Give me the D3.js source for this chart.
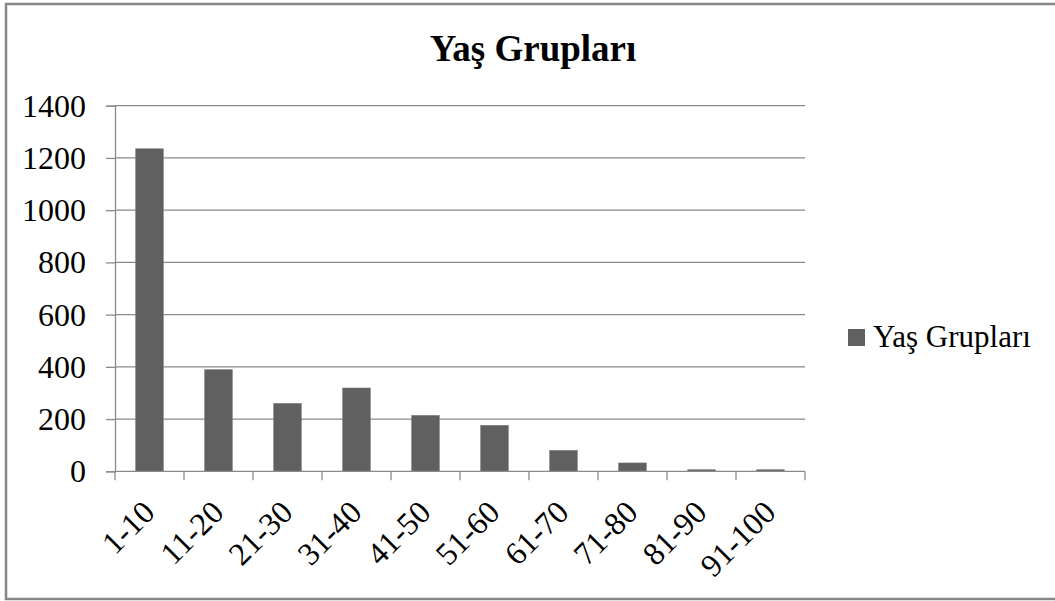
<!DOCTYPE html>
<html><head><meta charset="utf-8">
<script src="https://cdn.jsdelivr.net/npm/d3@7"></script>
<style>body{margin:0;background:#fff}svg{display:block}</style>
</head><body>
<svg id="c" width="1055" height="601"></svg>
<script>
const categories = ["1-10","11-20","21-30","31-40","41-50","51-60","61-70","71-80","81-90","91-100"];
const values = [1235, 389, 260, 319, 214, 176, 80, 32, 6, 6];
const yTicks = [0,200,400,600,800,1000,1200,1400];
const title = "Yaş Grupları";
const seriesName = "Yaş Grupları";

const svg = d3.select("#c");
const font = "'Liberation Serif','Times New Roman',serif";
const gray = "#8a8a8a";

svg.append("rect").attr("x",6).attr("y",4).attr("width",1052).attr("height",595)
  .attr("fill","#fff").attr("stroke","#878787").attr("stroke-width",2.5);

const L=115, R=805, T=105.7, B=471.3;
const x = d3.scaleBand().domain(categories).range([L,R]).paddingInner(0.6).paddingOuter(0.3);
const xb = d3.scaleBand().domain(categories).range([L,R]);
const y = d3.scaleLinear().domain([0,1400]).range([B,T]);

svg.append("text").attr("x",533).attr("y",61).attr("text-anchor","middle")
  .attr("font-family",font).attr("font-weight","bold").attr("font-size",37).text(title);

// gridlines
svg.append("g").selectAll("line").data(yTicks.filter(d=>d>0)).join("line")
  .attr("x1",L).attr("x2",R).attr("y1",d=>y(d)).attr("y2",d=>y(d))
  .attr("stroke",gray).attr("stroke-width",1.3);

// y axis
const ya = svg.append("g").attr("transform",`translate(${L},0)`)
  .call(d3.axisLeft(y).tickValues(yTicks).tickSize(9).tickPadding(20).tickFormat(d3.format("d")));
ya.select(".domain").attr("stroke",gray).attr("stroke-width",1.3);
ya.selectAll(".tick line").attr("stroke",gray).attr("stroke-width",1.3);
ya.selectAll(".tick text").attr("font-family",font).attr("font-size",32).attr("fill","#000").attr("dy","0.33em");

// bars
svg.append("g").selectAll("rect").data(values).join("rect")
  .attr("x",(d,i)=>x(categories[i])).attr("width",x.bandwidth())
  .attr("y",d=>y(d)).attr("height",d=>B-y(d))
  .attr("fill","#606060").attr("stroke","#7a7a7a").attr("stroke-width",0.6);

// x axis
const xa = svg.append("g").attr("transform",`translate(0,${B})`);
xa.append("line").attr("x1",L).attr("x2",R).attr("stroke",gray).attr("stroke-width",1.3);
const edges = categories.map(c=>xb(c)).concat([R]);
xa.selectAll("line.t").data(edges).join("line").attr("class","t")
  .attr("x1",d=>d).attr("x2",d=>d).attr("y1",0).attr("y2",9)
  .attr("stroke",gray).attr("stroke-width",1.3);
xa.selectAll("text").data(categories).join("text")
  .attr("transform",d=>`translate(${xb(d)+xb.bandwidth()/2+7},${43}) rotate(-45)`)
  .attr("text-anchor","end").attr("font-family",font).attr("font-size",32).attr("fill","#000")
  .text(d=>d);

// legend
svg.append("rect").attr("x",848).attr("y",329).attr("width",17).attr("height",17).attr("fill","#606060");
svg.append("text").attr("x",873).attr("y",347).attr("font-family",font).attr("font-size",31).text(seriesName);
</script>
</body></html>
